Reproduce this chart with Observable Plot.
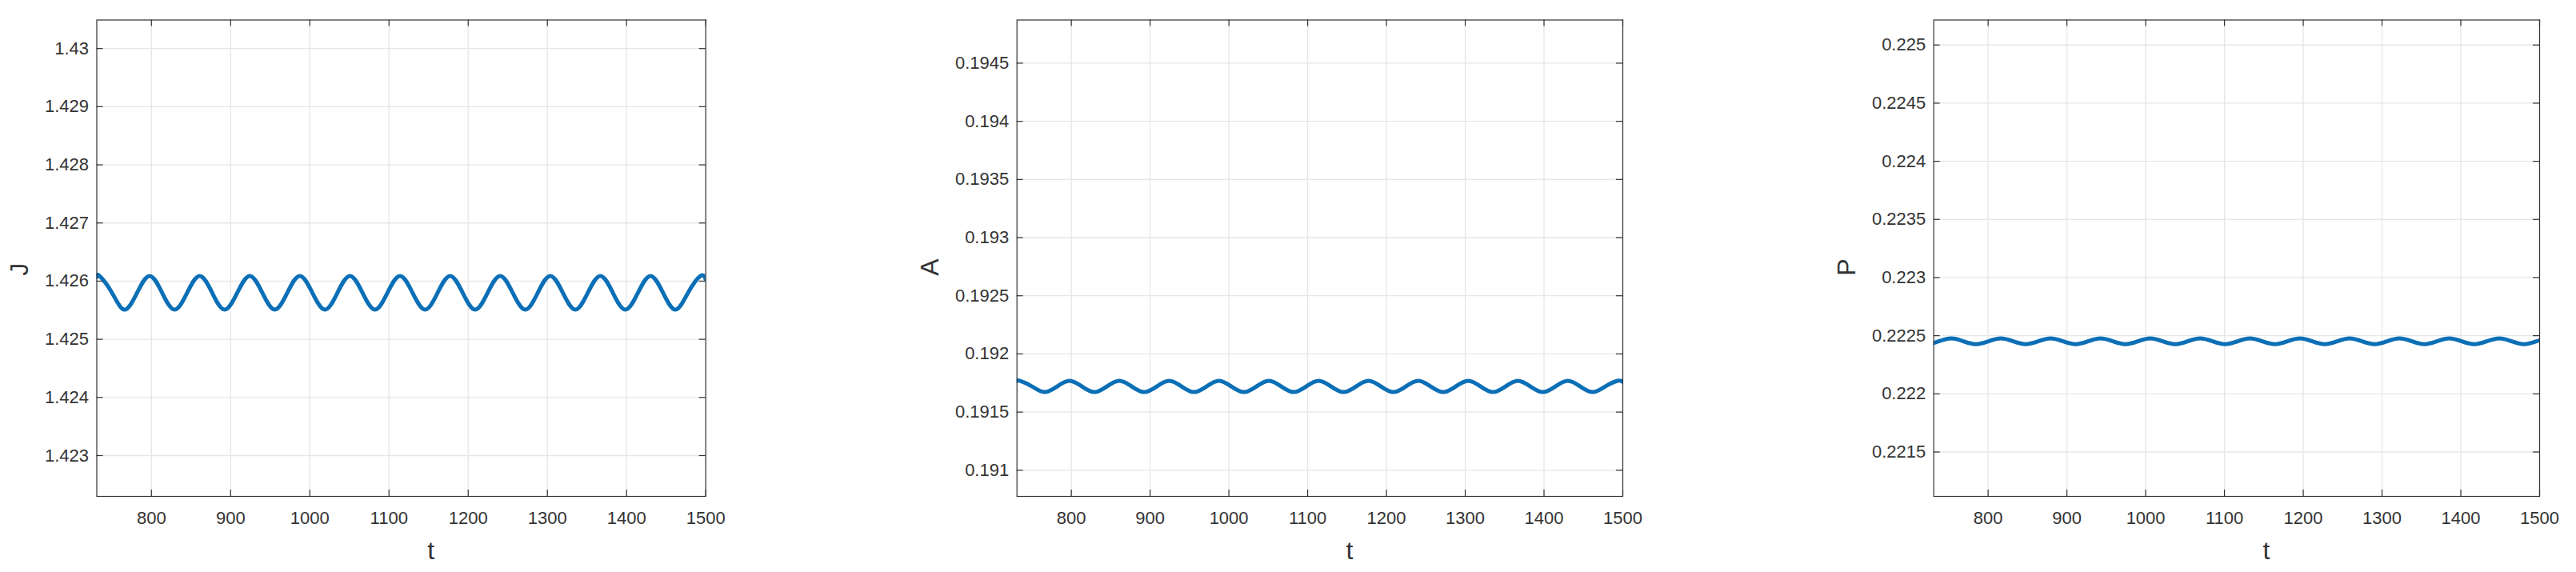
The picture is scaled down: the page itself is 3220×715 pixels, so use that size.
<!DOCTYPE html>
<html>
<head>
<meta charset="utf-8">
<script src="https://cdn.jsdelivr.net/npm/d3@7"></script>
<script src="https://cdn.jsdelivr.net/npm/@observablehq/plot@0.6"></script>
<style>
  html, body { margin: 0; padding: 0; background: #fff; }
  #wrap { position: relative; width: 3220px; height: 715px; overflow: hidden; }
  .panel { position: absolute; top: 0; }
</style>
</head>
<body>
<div id="wrap"></div>
<script>
// ---- tick labels ----
const tTicks = [800, 900, 1000, 1100, 1200, 1300, 1400, 1500];
const jTicks = [1.423, 1.424, 1.425, 1.426, 1.427, 1.428, 1.429, 1.43];
const aTicks = [0.191, 0.1915, 0.192, 0.1925, 0.193, 0.1935, 0.194, 0.1945];
const pTicks = [0.2215, 0.222, 0.2225, 0.223, 0.2235, 0.224, 0.2245, 0.225];

// ---- series (peaks, troughs and mid-crossings) ----
const tJA = [731, 734.4, 750.2, 766.0, 781.9, 797.7, 813.5, 829.3, 845.1, 860.9, 876.7, 892.5,
  908.4, 924.2, 940.0, 955.8, 971.6, 987.4, 1003.2, 1019.1, 1034.9, 1050.7, 1066.5, 1082.3,
  1098.1, 1113.9, 1129.7, 1145.6, 1161.4, 1177.2, 1193.0, 1208.8, 1224.6, 1240.4, 1256.2,
  1272.1, 1287.9, 1303.7, 1319.5, 1335.3, 1351.1, 1366.9, 1382.7, 1398.5, 1414.4, 1430.2,
  1446.0, 1461.8, 1477.6, 1493.4, 1500];
const J = [1.42607, 1.42609,
  1.42580, 1.42551, 1.42580, 1.42609,
  1.42580, 1.42551, 1.42580, 1.42609,
  1.42580, 1.42551, 1.42580, 1.42609,
  1.42580, 1.42551, 1.42580, 1.42609,
  1.42580, 1.42551, 1.42580, 1.42609,
  1.42580, 1.42551, 1.42580, 1.42609,
  1.42580, 1.42551, 1.42580, 1.42609,
  1.42580, 1.42551, 1.42580, 1.42609,
  1.42580, 1.42551, 1.42580, 1.42609,
  1.42580, 1.42551, 1.42580, 1.42609,
  1.42580, 1.42551, 1.42580, 1.42609,
  1.42580, 1.42551, 1.42580, 1.42609,
  1.42603];
const A = [0.191767, 0.191769,
  0.191720, 0.191672, 0.191720, 0.191769,
  0.191720, 0.191672, 0.191720, 0.191769,
  0.191720, 0.191672, 0.191720, 0.191769,
  0.191720, 0.191672, 0.191720, 0.191769,
  0.191720, 0.191672, 0.191720, 0.191769,
  0.191720, 0.191672, 0.191720, 0.191769,
  0.191720, 0.191672, 0.191720, 0.191769,
  0.191720, 0.191672, 0.191720, 0.191769,
  0.191720, 0.191672, 0.191720, 0.191769,
  0.191720, 0.191672, 0.191720, 0.191769,
  0.191720, 0.191672, 0.191720, 0.191769,
  0.191720, 0.191672, 0.191720, 0.191769,
  0.191760];
const tP = [731, 737.1,
  752.9, 768.7, 784.5, 800.4,
  816.2, 832.0, 847.8, 863.6,
  879.4, 895.2, 911.1, 926.9,
  942.7, 958.5, 974.3, 990.1,
  1005.9, 1021.7, 1037.6, 1053.4,
  1069.2, 1085.0, 1100.8, 1116.6,
  1132.4, 1148.2, 1164.1, 1179.9,
  1195.7, 1211.5, 1227.3, 1243.1,
  1258.9, 1274.7, 1290.6, 1306.4,
  1322.2, 1338.0, 1353.8, 1369.6,
  1385.4, 1401.2, 1417.1, 1432.9,
  1448.7, 1464.5, 1480.3, 1496.1,
  1500];
const P = [0.222438, 0.222452,
  0.222477, 0.222452, 0.222427, 0.222452,
  0.222477, 0.222452, 0.222427, 0.222452,
  0.222477, 0.222452, 0.222427, 0.222452,
  0.222477, 0.222452, 0.222427, 0.222452,
  0.222477, 0.222452, 0.222427, 0.222452,
  0.222477, 0.222452, 0.222427, 0.222452,
  0.222477, 0.222452, 0.222427, 0.222452,
  0.222477, 0.222452, 0.222427, 0.222452,
  0.222477, 0.222452, 0.222427, 0.222452,
  0.222477, 0.222452, 0.222427, 0.222452,
  0.222477, 0.222452, 0.222427, 0.222452,
  0.222477, 0.222452, 0.222427, 0.222452,
  0.222461];

const xDomain = [731, 1500];
const jDomain = [1.422298, 1.430491];
const aDomain = [0.190775, 0.194871];
const pDomain = [0.221118, 0.225215];

const FONT = "'Liberation Sans', Arial, Helvetica, sans-serif";
const INK = "#333333";
const GRID = "#e6e6e6";
const BLUE = "#0b6fb6";
const H = 715, MT = 24.5, MB = 95;

function panel({left, width, mL, mR, t, v, yDomain, yTicks, label, labelDx}) {
  const innerW = width - mL - mR;
  const innerH = H - MT - MB;
  const data = t.map((d, i) => ({t: d, v: v[i]}));
  const svg = Plot.plot({
    width, height: H,
    marginLeft: mL, marginRight: mR, marginTop: MT, marginBottom: MB,
    style: {fontFamily: FONT, background: "transparent", overflow: "visible"},
    x: {domain: xDomain},
    y: {domain: yDomain},
    marks: [
      Plot.gridX(tTicks, {x: d => d, stroke: GRID, strokeOpacity: 1, strokeWidth: 1.3}),
      Plot.gridY(yTicks, {y: d => d, stroke: GRID, strokeOpacity: 1, strokeWidth: 1.3}),
      Plot.line(data, {x: "t", y: "v", curve: "natural", stroke: BLUE, strokeWidth: 5, clip: true}),
      Plot.frame({stroke: INK, strokeWidth: 1.2}),
      Plot.tickY(yTicks, {y: d => d, insetRight: innerW - 8, stroke: INK, strokeWidth: 1.2}),
      Plot.tickY(yTicks, {y: d => d, insetLeft: innerW - 8, stroke: INK, strokeWidth: 1.2}),
      Plot.tickX(tTicks, {x: d => d, insetTop: innerH - 8, stroke: INK, strokeWidth: 1.2}),
      Plot.tickX(tTicks, {x: d => d, insetBottom: innerH - 8, stroke: INK, strokeWidth: 1.2}),
      Plot.axisX(tTicks, {tickSize: 0, tickPadding: 19, fontSize: 22, fill: INK, label: null, tickFormat: d => String(d)}),
      Plot.axisY(yTicks, {tickSize: 0, tickPadding: 10, fontSize: 22, fill: INK, label: null, tickFormat: d => String(d)}),
      Plot.text([label], {text: d => d, frameAnchor: "left", rotate: -90, dx: labelDx, dy: 22, fontSize: 32, fill: INK}),
      Plot.text(["t"], {text: d => d, frameAnchor: "bottom", lineAnchor: "bottom", dx: 37, dy: 78, fontSize: 32, fill: INK})
    ]
  });
  const div = document.createElement("div");
  div.className = "panel";
  div.style.left = left + "px";
  div.appendChild(svg);
  document.getElementById("wrap").appendChild(div);
}

panel({left: 0, width: 940, mL: 120.5, mR: 58.3, t: tJA, v: J, yDomain: jDomain, yTicks: jTicks, label: "J", labelDx: -96});
panel({left: 1140, width: 940, mL: 130.7, mR: 52, t: tJA, v: A, yDomain: aDomain, yTicks: aTicks, label: "A", labelDx: -108.5});
panel({left: 2290, width: 930, mL: 126.7, mR: 46, t: tP, v: P, yDomain: pDomain, yTicks: pTicks, label: "P", labelDx: -108.5});
</script>
</body>
</html>
